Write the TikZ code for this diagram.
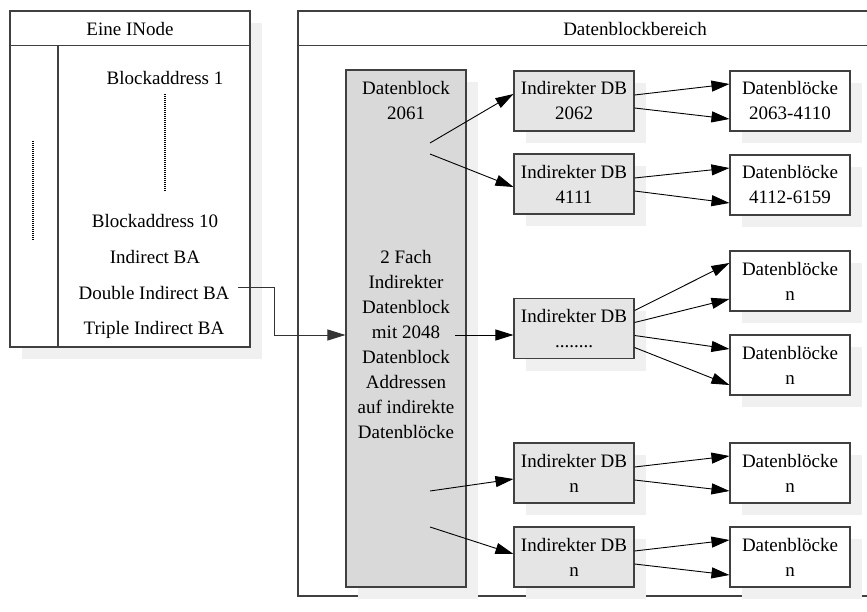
\documentclass[tikz,border=0pt]{standalone}
\usepackage{fontspec}
\setmainfont{Liberation Serif}
\usetikzlibrary{arrows.meta,shadows,calc}
\begin{document}
\begin{tikzpicture}[x=1pt,y=-1pt,
  frame/.style={draw=black!75,line width=1.1pt},
  shade/.style={drop shadow={shadow xshift=12pt,shadow yshift=-12pt,fill=black!6,opacity=1}},
  txt/.style={font=\fontsize{19}{25}\selectfont,align=center,inner sep=0pt},
  box/.style={frame,shade,minimum width=120pt,minimum height=60pt,inner sep=0pt,
    align=center,font=\fontsize{19}{25}\selectfont},
  indbox/.style={box,fill=black!10},
  datbox/.style={box,fill=white},
  arr/.style={-{Triangle[length=18pt,width=11pt]},line width=0.9pt,black},
  dots/.style={line width=1.1pt,dash pattern=on 1pt off 1pt}
]
\useasboundingbox (0,0) rectangle (867,612);
\clip (0,0) rectangle (867,612);

% data block area (runs past the right edge)
\node[frame,fill=white,minimum width=674pt,minimum height=585pt,inner sep=0pt] (area) at (635,303.5) {};
\draw[frame] ($(area.north west)+(0,35)$) -- ($(area.north east)+(0,35)$);
\node[txt] (areatitle) at (635,29) {Datenblockbereich};

% inode
\node[frame,fill=white,shade,minimum width=240pt,minimum height=336pt,inner sep=0pt] (inode) at (130,179) {};
\draw[frame] ($(inode.north west)+(0,35)$) -- ($(inode.north east)+(0,35)$);
\draw[frame] (58,46) -- (inode.south west -| 58,0);
\node[txt] (inodetitle) at (130,29) {Eine INode};
\draw[dots] (33,141) -- (33,240);
\node[txt] (ba1) at (165,78) {Blockaddress 1};
\draw[dots] (165,94) -- (165,192);
\node[txt] (ba10) at (155,221) {Blockaddress 10};
\node[txt] (iba) at (155,257) {Indirect BA};
\node[txt] (diba) at (154,293) {Double Indirect BA};
\node[txt] (tiba) at (154,330) {Triple Indirect BA};

% double indirect block
\node[box,fill=black!15,minimum height=517pt] (big) at (406,328.5) {};
\node[txt] (bigtop) at (406,100.5) {Datenblock\\2061};
\node[txt] (bigmid) at (406,344.5) {2 Fach\\Indirekter\\Datenblock\\mit 2048\\Datenblock\\Addressen\\auf indirekte\\Datenblöcke};

% indirect blocks
\node[indbox] (ind1) at (574,101) {Indirekter DB\\2062};
\node[indbox] (ind2) at (574,184) {Indirekter DB\\4111};
\node[indbox] (ind3) at (574,328.5) {Indirekter DB\\........};
\node[indbox] (ind4) at (574,473) {Indirekter DB\\n};
\node[indbox] (ind5) at (574,557) {Indirekter DB\\n};

% data blocks
\node[datbox] (db1) at (790,101) {Datenblöcke\\2063-4110};
\node[datbox] (db2) at (790,185) {Datenblöcke\\4112-6159};
\node[datbox] (db3) at (790,281) {Datenblöcke\\n};
\node[datbox] (db4) at (790,365) {Datenblöcke\\n};
\node[datbox] (db5) at (790,473) {Datenblöcke\\n};
\node[datbox] (db6) at (790,557) {Datenblöcke\\n};

% inode -> double indirect block
\coordinate (dstart) at (238,287);
\coordinate (dbend) at (274,335);
\draw[arr,draw=black!80] (dstart) -| (dbend) -- (dbend -| big.west);

% double indirect block -> indirect blocks
\coordinate (g1) at (430,143);
\coordinate (g2) at (430,154);
\coordinate (g3) at (455,335);
\coordinate (g4) at (430,491);
\coordinate (g5) at (430,527);
\draw[arr] (g1) -- ($(ind1.west)+(0,-7)$);
\draw[arr] (g2) -- ($(ind2.west)+(0,3)$);
\draw[arr] (g3) -- (g3 -| ind3.west);
\draw[arr] (g4) -- ($(ind4.west)+(0,6)$);
\draw[arr] (g5) -- ($(ind5.west)+(0,-3)$);

% indirect blocks -> data blocks
\foreach \a/\b in {ind1/db1,ind2/db2,ind4/db5,ind5/db6}{
  \draw[arr] ($(\a.east)+(0,-6)$) -- ($(\b.west)+(0,-17)$);
  \draw[arr] ($(\a.east)+(0,7)$) -- ($(\b.west)+(0,18)$);
}
\draw[arr] ($(ind3.east)+(0,-18)$) -- ($(db3.west)+(0,-18)$);
\draw[arr] ($(ind3.east)+(0,-6)$) -- ($(db3.west)+(0,18)$);
\draw[arr] ($(ind3.east)+(0,7)$) -- ($(db4.west)+(0,-16)$);
\draw[arr] ($(ind3.east)+(0,19)$) -- ($(db4.west)+(0,20)$);
\end{tikzpicture}
\end{document}
